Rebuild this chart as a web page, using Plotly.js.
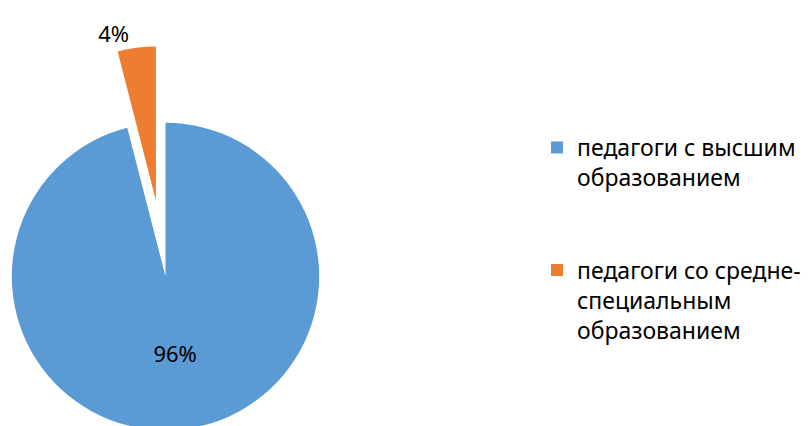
<!DOCTYPE html>
<html><head><meta charset="utf-8">
<script src="https://cdn.plot.ly/plotly-3.0.1.min.js"></script>
<style>
html,body{margin:0;padding:0;overflow:hidden;width:808px;height:426px;background:#fff}
#chart{position:absolute;left:-65px;top:0;width:873px;height:507px}
</style>
</head><body><div id="chart"></div>
<script>
const categories = [
  "педагоги с высшим<br>образованием<br><br>",
  "педагоги со средне-<br>специальным<br>образованием"
];
const shares = [96, 4];

const FONT = "Noto Sans, Open Sans, DejaVu Sans, sans-serif";
const trace = {
  type: "pie",
  labels: categories,
  values: shares,
  sort: false,
  direction: "clockwise",
  rotation: 0,
  pull: [0, 0.5],
  marker: {colors: ["#5B9BD5", "#ED7D31"], line: {width: 0}},
  textinfo: "percent",
  textposition: ["inside", "outside"],
  insidetextorientation: "horizontal",
  textfont: {family: FONT, size: 22, color: "#000"},
  insidetextfont: {family: FONT, size: 22, color: "#000"},
  outsidetextfont: {family: FONT, size: 22, color: "#000"},
  hoverinfo: "none",
  domain: {x: [0, 461/873], y: [0, 1]}
};
const layout = {
  width: 873, height: 507,
  margin: {l: 0, r: 0, t: 46, b: 0},
  paper_bgcolor: "#fff",
  showlegend: true,
  legend: {
    x: 602/873, xanchor: "left",
    y: 1 - (126 - 46)/461, yanchor: "top",
    valign: "top",
    font: {family: FONT, size: 23, color: "#000"},
    bgcolor: "rgba(0,0,0,0)"
  }
};
Plotly.newPlot("chart", [trace], layout, {staticPlot: true});
</script>
</body></html>
